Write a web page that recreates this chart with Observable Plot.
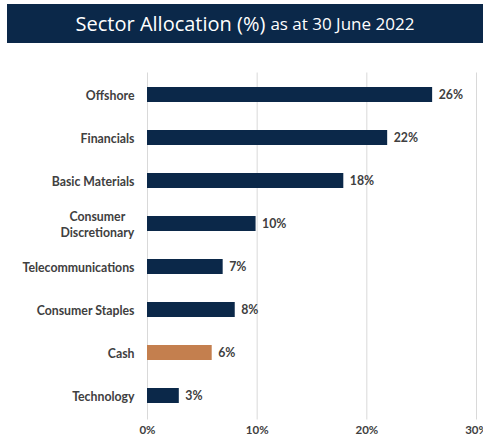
<!DOCTYPE html>
<html><head><meta charset="utf-8">
<script src="https://cdn.jsdelivr.net/npm/d3@7"></script>
<script src="https://cdn.jsdelivr.net/npm/@observablehq/plot@0.6"></script>
<style>
html,body{margin:0;padding:0;background:#fff;width:483px;height:438px;overflow:hidden;}
#title{position:absolute;left:7px;top:4px;width:476px;height:39px;background:#0b2849;color:#fff;
 font-family:"Open Sans",sans-serif;display:flex;align-items:center;justify-content:center;white-space:nowrap;}
#title .a{font-size:20px;}
#title .b{font-size:17px;margin-left:5px;}
#chart{position:absolute;left:0;top:50px;}
</style></head><body>
<div id="title"><span class="a">Sector Allocation (%)</span><span class="b">as at 30 June 2022</span></div>
<div id="chart"></div>
<script>
const sectors = ["Offshore","Financials","Basic Materials","Consumer\nDiscretionary","Telecommunications","Consumer Staples","Cash","Technology"];
const values = [26.0, 21.9, 17.9, 9.9, 6.9, 8.0, 5.9, 2.9];
const xTicks = [0, 10, 20, 30];
const highlight = "Cash";

const data = sectors.map((s, i) => ({sector: s, value: values[i]}));
const font = "Lato, 'Open Sans', sans-serif";

const chart = Plot.plot({
  width: 483,
  height: 388,
  marginLeft: 147,
  marginRight: 7,
  marginTop: 23.5,
  marginBottom: 20.5,
  style: {fontFamily: font, fontSize: "12.3px", fontWeight: "bold", color: "#404040", overflow: "visible"},
  x: {domain: [0, 30], ticks: xTicks, tickFormat: d => d + "%"},
  y: {domain: sectors, paddingInner: 0.64, paddingOuter: 0.32, align: 0.5},
  marks: [
    Plot.gridX(xTicks, {stroke: "#d9d9d9", strokeOpacity: 1, insetTop: -1, insetBottom: -2}),
    Plot.axisX({ticks: xTicks, tickSize: 0, tickPadding: 8, fontSize: 11.5, tickFormat: d => d + "%", label: null, fill: "#404040"}),
    Plot.axisY({tickSize: 0, tickPadding: 13, label: null, fill: "#404040", lineHeight: 1.3}),
    Plot.barX(data, {y: "sector", x: "value", fill: d => d.sector === highlight ? "#c47f4e" : "#0b2849"}),
    Plot.text(data, {y: "sector", x: "value", text: d => Math.round(d.value) + "%", textAnchor: "start", dx: 6, fill: "#404040"})
  ]
});
document.getElementById("chart").appendChild(chart);

// center the two-line label like the reference
chart.querySelectorAll("text").forEach(t => {
  if (t.querySelectorAll("tspan").length > 1) {
    const bb = t.getBBox();
    t.setAttribute("text-anchor", "middle");
    t.querySelectorAll("tspan").forEach(ts => { if (ts.getAttribute("x") !== null) ts.setAttribute("x", -bb.width / 2); });
    if (t.getAttribute("x") !== null) t.setAttribute("x", -bb.width / 2 - 13);
  }
});
</script>
</body></html>
